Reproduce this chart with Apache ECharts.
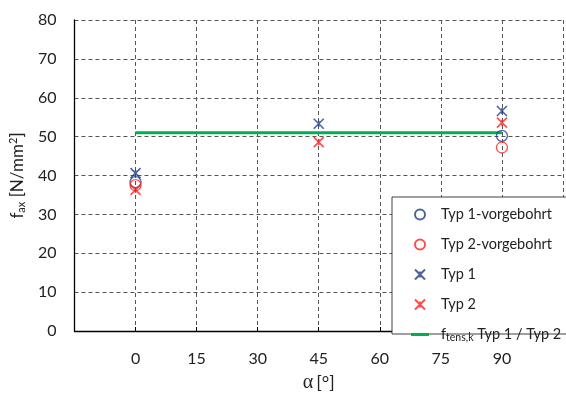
<!DOCTYPE html>
<html><head><meta charset="utf-8">
<script src="https://cdn.jsdelivr.net/npm/echarts@6/dist/echarts.min.js"></script>
<style>html,body{margin:0;padding:0;background:#fff}#c{width:566px;height:398px}</style>
</head><body><div id="c"></div>
<script>
const angles = [0, 45, 90];
const typ1Vorgebohrt = [38.3, null, 50.2];
const typ2Vorgebohrt = [37.5, null, 47.2];
const typ1 = [40.6, 53.3, 56.6];
const typ2 = [36.3, 48.6, 53.6];
const ftensX = [0, 90];
const ftensY = [51.0, 51.0];
const xTicks = [0, 15, 30, 45, 60, 75, 90];
const seriesNames = ['Typ 1-vorgebohrt', 'Typ 2-vorgebohrt', 'Typ 1', 'Typ 2', 'ftens'];

const NAVY = '#1f3c88', RED = '#ff1f1f', GREEN = '#00b050';
const FONT = 'Lato';
const pairs = (xs, ys) => xs.map((x, i) => ys[i] == null ? null : [x, ys[i]]).filter(p => p);
const STAR = 'path://M0,0L10,10M10,0L0,10M5,2L5,8';
const LINEICON = 'path://M0,0M18,10M0,3.5L18,3.5L18,6.5L0,6.5Z';

const chart = echarts.init(document.getElementById('c'), null, {renderer: 'canvas'});
chart.setOption({
  animation: false,
  backgroundColor: '#fff',
  textStyle: {fontFamily: FONT},
  grid: {left: 73, top: 20, width: 497, height: 313, containLabel: false},
  xAxis: {
    type: 'value', min: -15, max: 105, interval: 15,
    axisLine: {show: true, onZero: false, lineStyle: {color: '#000', width: 1.3}},
    axisTick: {show: true, inside: true, length: 4, lineStyle: {color: '#000'}},
    axisLabel: {fontFamily: FONT, fontSize: 16, color: '#222', margin: 20,
      formatter: v => xTicks.indexOf(v) >= 0 ? String(v) : ''},
    splitLine: {show: true, lineStyle: {color: '#555', type: [4, 3], width: 1}},
    name: '{al|α} {t|[°]}', nameLocation: 'middle', nameGap: 42,
    nameTextStyle: {rich: {al: {fontFamily: 'Liberation Serif', fontSize: 20, color: '#222'},
      t: {fontFamily: FONT, fontSize: 18, color: '#222'}}}
  },
  yAxis: {
    type: 'value', min: 0, max: 80, interval: 10,
    axisLine: {show: true, onZero: false, lineStyle: {color: '#000', width: 1.3}},
    axisTick: {show: false},
    axisLabel: {fontFamily: FONT, fontSize: 16, color: '#222', margin: 18},
    splitLine: {show: true, lineStyle: {color: '#555', type: [4, 3], width: 1}},
    name: '{a|f}{sub|ax}{a| [N/mm}{sup|2}{a|]}', nameLocation: 'middle', nameGap: 37,
    nameTextStyle: {rich: {
      a: {fontFamily: FONT, fontSize: 17, color: '#222'},
      sub: {fontFamily: FONT, fontSize: 11, color: '#222', verticalAlign: 'bottom', padding: [8, 0, 0, 0]},
      sup: {fontFamily: FONT, fontSize: 11, color: '#222', verticalAlign: 'top', padding: [0, 0, 8, 0]}
    }}
  },
  graphic: [{type: 'rect', z: 3, shape: {x: 392, y: 197, width: 200, height: 137},
    style: {fill: '#fff', stroke: '#404040', lineWidth: 1}}],
  legend: {
    z: 10, left: 411, top: 207, orient: 'vertical', padding: 0,
    itemWidth: 18, itemHeight: 10, itemGap: 15,
    data: seriesNames.map(n => n === 'ftens' ? {name: n, icon: LINEICON} : {name: n}),
    formatter: n => n === 'ftens' ? '{a|f}{sub|tens,k}{a| Typ 1 / Typ 2}' : '{a|' + n + '}',
    textStyle: {fontFamily: FONT, fontSize: 14.5, color: '#222', padding: [0, 0, 0, 7],
      rich: {a: {fontFamily: FONT, fontSize: 14.5, color: '#222'},
        sub: {fontFamily: FONT, fontSize: 10.5, color: '#222', verticalAlign: 'bottom', padding: [6, 0, 0, 0]}}}
  },
  series: [
    {name: seriesNames[0], type: 'scatter', symbol: 'circle', symbolSize: 11, z: 2,
      itemStyle: {color: 'rgba(0,0,0,0)', borderColor: NAVY, borderWidth: 1.3},
      data: pairs(angles, typ1Vorgebohrt)},
    {name: seriesNames[1], type: 'scatter', symbol: 'circle', symbolSize: 11, z: 2,
      itemStyle: {color: 'rgba(0,0,0,0)', borderColor: RED, borderWidth: 1.3},
      data: pairs(angles, typ2Vorgebohrt)},
    {name: seriesNames[2], type: 'scatter', symbol: STAR, symbolSize: 10, z: 2,
      itemStyle: {color: 'rgba(0,0,0,0)', borderColor: NAVY, borderWidth: 1.6},
      data: pairs(angles, typ1)},
    {name: seriesNames[3], type: 'scatter', symbol: STAR, symbolSize: 10, z: 2,
      itemStyle: {color: 'rgba(0,0,0,0)', borderColor: RED, borderWidth: 1.6},
      data: pairs(angles, typ2)},
    {name: seriesNames[4], type: 'line', symbol: 'none', showSymbol: false, z: 1,
      lineStyle: {color: GREEN, width: 3}, itemStyle: {color: GREEN},
      data: pairs(ftensX, ftensY)}
  ]
});
</script></body></html>
